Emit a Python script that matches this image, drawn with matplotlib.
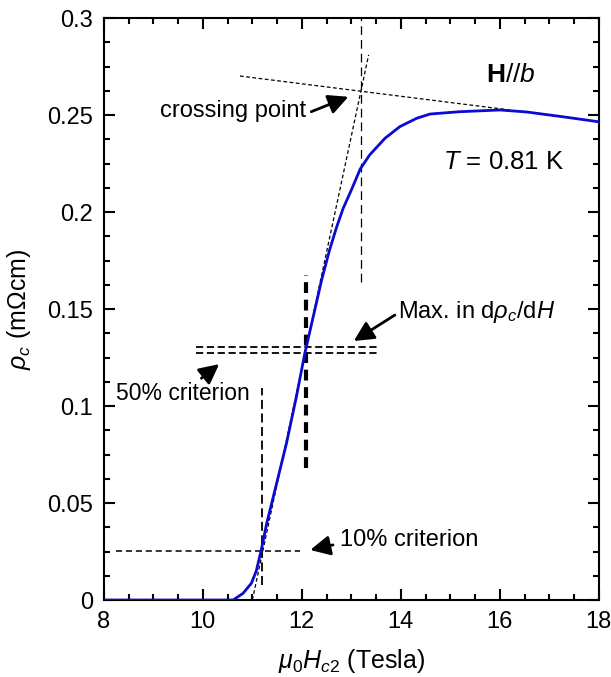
import matplotlib
matplotlib.use('Agg')
import matplotlib.pyplot as plt
from matplotlib.ticker import MultipleLocator, FuncFormatter

plt.rcParams['font.family'] = ['Liberation Sans', 'DejaVu Sans']
plt.rcParams['mathtext.fontset'] = 'custom'
plt.rcParams['mathtext.rm'] = 'Liberation Sans'
plt.rcParams['mathtext.it'] = 'Liberation Sans:italic'
plt.rcParams['mathtext.bf'] = 'Liberation Sans:bold'

# resistivity curve
field = [8.0, 10.0, 10.61, 10.81, 10.98, 11.08, 11.18, 11.29, 11.49, 11.69,
         11.89, 12.06, 12.23, 12.40, 12.56, 12.70, 12.835, 13.0, 13.18, 13.37,
         13.68, 13.98, 14.32, 14.59, 15.19, 16.0, 16.53, 17.3, 18.0]
rho_c = [0.0, 0.0, 0.0, 0.0034, 0.0086, 0.015, 0.0258, 0.0395, 0.0601, 0.0808,
         0.1048, 0.1271, 0.146, 0.165, 0.1804, 0.192, 0.2019, 0.2113, 0.2222, 0.2294,
         0.238, 0.244, 0.2483, 0.2505, 0.2517, 0.2526, 0.2516, 0.249, 0.2465]

# construction lines
steep_x = [11.0, 13.35]
steep_y = [0.0, 0.281]
flat_x = [10.75, 16.2]
flat_y = [0.2701, 0.2526]
cross_x = 13.19
cross_y = [0.164, 0.3]
max_x = 12.08
max_y = [0.068, 0.1675]
max_h = [0.1302, 0.1275]
max_hx = [9.86, 13.56]
half_x = 11.19
half_y = [0.0077, 0.1091]
ten_y = 0.0254
ten_x = [8.24, 11.96]

fig = plt.figure(figsize=(6.11, 6.77), dpi=100)
ax = fig.add_axes([0.170, 0.1137, 0.810, 0.8597])

ax.plot(field, rho_c, color='#0a0ad2', lw=2.0, zorder=3)

ax.plot(steep_x, steep_y, color='k', lw=0.9, ls=(0, (3, 2)))
ax.plot(flat_x, flat_y, color='k', lw=0.9, ls=(0, (3, 2)))
ax.plot([cross_x, cross_x], cross_y, color='k', lw=0.9, ls=(0, (7, 4)))
ax.plot([max_x, max_x], max_y, color='k', lw=3.0, ls=(0, (2.6, 1.6)))
for h in max_h:
    ax.plot(max_hx, [h, h], color='k', lw=1.3, ls=(0, (4, 2)))
ax.plot([half_x, half_x], half_y, color='k', lw=1.3, ls=(0, (5, 2.5)))
ax.plot(ten_x, [ten_y, ten_y], color='k', lw=1.1, ls=(0, (4, 2.5)))

arrow = dict(arrowstyle='-|>,head_length=0.6,head_width=0.3', lw=2,
             color='k', mutation_scale=20, shrinkA=0, shrinkB=0)
ax.annotate('', xy=(12.94, 0.2594), xytext=(12.19, 0.2517), arrowprops=arrow)
ax.annotate('', xy=(13.05, 0.1335), xytext=(13.88, 0.1469), arrowprops=arrow)
ax.annotate('', xy=(10.33, 0.1216), xytext=(9.97, 0.1143), arrowprops=arrow)
ax.annotate('', xy=(12.17, 0.0258), xytext=(12.63, 0.0284), arrowprops=arrow)

fs = 17
ax.text(9.13, 0.252, 'crossing point', fontsize=fs, va='center', ha='left')
ax.text(13.94, 0.1486, r'Max. in d$\rho_c$/d$H$', fontsize=fs, va='center', ha='left')
ax.text(10.95, 0.1065, '50% criterion', fontsize=16.5, va='center', ha='right')
ax.text(12.77, 0.0309, '10% criterion', fontsize=fs, va='center', ha='left')
ax.text(15.73, 0.2706, r'$\mathbf{H}$//$b$', fontsize=19, va='center', ha='left')
ax.text(14.85, 0.2259, r'$T$ = 0.81 K', fontsize=18.5, va='center', ha='left')

ax.set_xlim(8, 18)
ax.set_ylim(0, 0.3)
ax.xaxis.set_major_locator(MultipleLocator(2))
ax.xaxis.set_minor_locator(MultipleLocator(0.5))
ax.yaxis.set_major_locator(MultipleLocator(0.05))
ax.yaxis.set_minor_locator(MultipleLocator(0.0125))
ax.yaxis.set_major_formatter(FuncFormatter(lambda v, p: '%g' % round(v, 3)))
ax.tick_params(which='both', direction='in', top=True, right=True, width=1.5,
               labelsize=fs)
ax.tick_params(which='major', length=8, pad=8)
ax.tick_params(which='minor', length=4)
for s in ax.spines.values():
    s.set_linewidth(1.5)

ax.set_xlabel(r'$\mu_0H_{c2}$ (Tesla)', fontsize=fs + 1, labelpad=10)
ax.set_ylabel(r'$\rho_c$ (m$\Omega$cm)', fontsize=fs + 1, labelpad=10)

fig.savefig('out.png', dpi=100)
